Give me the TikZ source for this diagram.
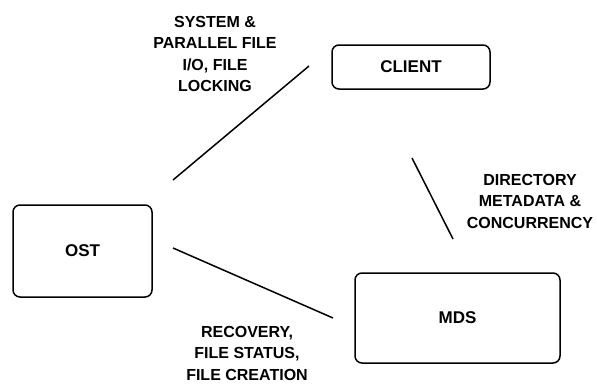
\documentclass[tikz,border=0pt]{standalone}
\usepackage{fontspec}
\setmainfont{Liberation Sans}
\begin{document}
\begin{tikzpicture}[x=1pt,y=-1pt,
  box/.style={draw, line width=1.5pt, rounded corners=7pt, inner sep=0pt,
    font=\fontsize{17}{20}\selectfont\bfseries},
  lbl/.style={font=\fontsize{16}{21.5}\selectfont\bfseries, align=center, inner sep=0pt},
  link/.style={line width=1.5pt}]
\useasboundingbox (0,0) rectangle (597,383);

% components
\node[box, minimum width=139pt, minimum height=92pt] (ost) at (82.5,251) {OST};
\node[box, minimum width=158pt, minimum height=44pt] (client) at (411,67) {CLIENT};
\node[box, minimum width=205pt, minimum height=90pt] (mds) at (457.5,318) {MDS};

% connector end points
\coordinate (oc1) at (173,180);
\coordinate (oc2) at (309,66);
\coordinate (om1) at (173,248);
\coordinate (om2) at (333,318);
\coordinate (cm1) at (412,158);
\coordinate (cm2) at (453,239);

\draw[link] (oc1) -- (oc2);
\draw[link] (om1) -- (om2);
\draw[link] (cm1) -- (cm2);

% connector labels
\node[lbl] (tio) at (215,54) {SYSTEM \&\\PARALLEL FILE\\I/O, FILE\\LOCKING};
\node[lbl] (tmd) at (530,201) {DIRECTORY\\METADATA \&\\CONCURRENCY};
\node[lbl] (trc) at (247,353) {RECOVERY,\\FILE STATUS,\\FILE CREATION};
\end{tikzpicture}
\end{document}
